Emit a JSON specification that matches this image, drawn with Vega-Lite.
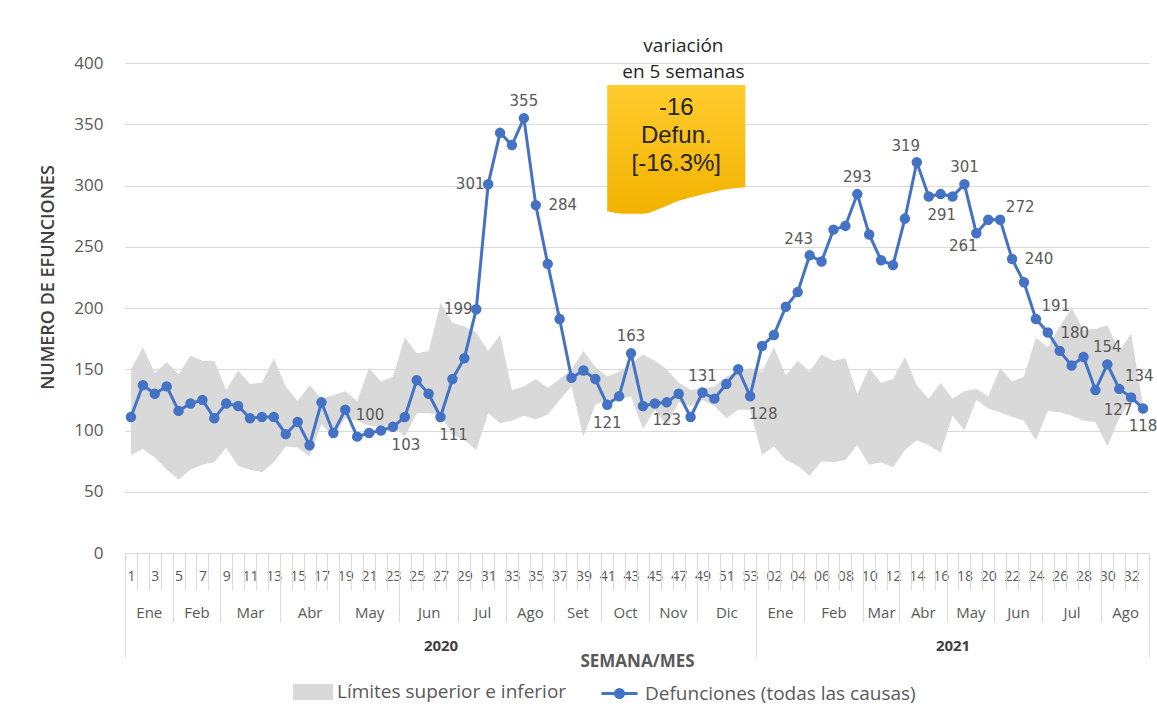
{
"$schema": "https://vega.github.io/schema/vega-lite/v6.json",
"width": 1024, "height": 490,
"autosize": {"type": "none"},
"padding": {"left": 125, "top": 63, "right": 8, "bottom": 169},
"background": "white",
"config": {"view": {"stroke": null}, "font": "Open Sans"},
"data": {"values": [
{"idx":1,"d":111,"lo":80,"hi":150},{"idx":2,"d":137,"lo":85,"hi":168},{"idx":3,"d":130,"lo":78,"hi":147},{"idx":4,"d":136,"lo":68,"hi":156},
{"idx":5,"d":116,"lo":60,"hi":146},{"idx":6,"d":122,"lo":68,"hi":161},{"idx":7,"d":125,"lo":72,"hi":157},{"idx":8,"d":110,"lo":74,"hi":157},
{"idx":9,"d":122,"lo":86,"hi":133},{"idx":10,"d":120,"lo":71,"hi":149},{"idx":11,"d":110,"lo":68,"hi":138},{"idx":12,"d":111,"lo":66,"hi":139},
{"idx":13,"d":111,"lo":74,"hi":159},{"idx":14,"d":97,"lo":87,"hi":136},{"idx":15,"d":107,"lo":86,"hi":124},{"idx":16,"d":88,"lo":79,"hi":137},
{"idx":17,"d":123,"lo":105,"hi":126},{"idx":18,"d":98,"lo":95,"hi":129},{"idx":19,"d":117,"lo":110,"hi":132},{"idx":20,"d":95,"lo":108,"hi":124},
{"idx":21,"d":98,"lo":104,"hi":151},{"idx":22,"d":100,"lo":103,"hi":140,"pos":"aboveleft"},{"idx":23,"d":103,"lo":105,"hi":144,"pos":"belowright"},{"idx":24,"d":111,"lo":95,"hi":176},
{"idx":25,"d":141,"lo":114,"hi":163},{"idx":26,"d":130,"lo":114,"hi":165},{"idx":27,"d":111,"lo":113,"hi":204,"pos":"belowright"},{"idx":28,"d":142,"lo":97,"hi":188},
{"idx":29,"d":159,"lo":92,"hi":185},{"idx":30,"d":199,"lo":84,"hi":180,"pos":"left"},{"idx":31,"d":301,"lo":114,"hi":165,"pos":"left"},{"idx":32,"d":343,"lo":106,"hi":178},
{"idx":33,"d":333,"lo":108,"hi":133},{"idx":34,"d":355,"lo":112,"hi":136,"pos":"above"},{"idx":35,"d":284,"lo":109,"hi":142,"pos":"right"},{"idx":36,"d":236,"lo":113,"hi":135},
{"idx":37,"d":191,"lo":125,"hi":142},{"idx":38,"d":143,"lo":136,"hi":150},{"idx":39,"d":149,"lo":95,"hi":165},{"idx":40,"d":142,"lo":121,"hi":152},
{"idx":41,"d":121,"lo":125,"hi":144,"pos":"below"},{"idx":42,"d":128,"lo":125,"hi":148},{"idx":43,"d":163,"lo":128,"hi":154,"pos":"above"},{"idx":44,"d":120,"lo":101,"hi":162},
{"idx":45,"d":122,"lo":117,"hi":157},{"idx":46,"d":123,"lo":104,"hi":150,"pos":"below"},{"idx":47,"d":130,"lo":123,"hi":139},{"idx":48,"d":111,"lo":120,"hi":133},
{"idx":49,"d":131,"lo":125,"hi":134,"pos":"above"},{"idx":50,"d":126,"lo":120,"hi":136},{"idx":51,"d":138,"lo":110,"hi":144},{"idx":52,"d":150,"lo":117,"hi":148},
{"idx":53,"d":128,"lo":117,"hi":151,"pos":"belowright"},
{"idx":54,"d":169,"lo":80,"hi":148},{"idx":55,"d":178,"lo":87,"hi":168},{"idx":56,"d":201,"lo":76,"hi":145},{"idx":57,"d":213,"lo":71,"hi":157},
{"idx":58,"d":243,"lo":63,"hi":148,"pos":"aboveleft"},{"idx":59,"d":238,"lo":75,"hi":162},{"idx":60,"d":264,"lo":74,"hi":157},{"idx":61,"d":267,"lo":76,"hi":159},
{"idx":62,"d":293,"lo":88,"hi":130,"pos":"above"},{"idx":63,"d":260,"lo":72,"hi":151},{"idx":64,"d":239,"lo":74,"hi":139},{"idx":65,"d":235,"lo":70,"hi":142},
{"idx":66,"d":273,"lo":84,"hi":160},{"idx":67,"d":319,"lo":92,"hi":137,"pos":"aboveleft"},{"idx":68,"d":291,"lo":88,"hi":126,"pos":"belowright"},{"idx":69,"d":293,"lo":82,"hi":139},
{"idx":70,"d":291,"lo":112,"hi":126},{"idx":71,"d":301,"lo":100,"hi":132,"pos":"above"},{"idx":72,"d":261,"lo":125,"hi":134,"pos":"belowleft"},{"idx":73,"d":272,"lo":118,"hi":128},
{"idx":74,"d":272,"lo":115,"hi":151,"pos":"aboveright"},{"idx":75,"d":240,"lo":111,"hi":140,"pos":"right"},{"idx":76,"d":221,"lo":108,"hi":144},{"idx":77,"d":191,"lo":92,"hi":176,"pos":"aboveright"},
{"idx":78,"d":180,"lo":116,"hi":168,"pos":"right"},{"idx":79,"d":165,"lo":115,"hi":185},{"idx":80,"d":153,"lo":112,"hi":200},{"idx":81,"d":160,"lo":108,"hi":182},
{"idx":82,"d":133,"lo":107,"hi":183},{"idx":83,"d":154,"lo":87,"hi":186,"pos":"above"},{"idx":84,"d":134,"lo":110,"hi":165,"pos":"aboveright"},{"idx":85,"d":127,"lo":125,"hi":179,"pos":"belowleft"},
{"idx":86,"d":118,"lo":118,"hi":120,"pos":"below"}
]},
"resolve": {"scale": {"x": "independent"}, "axis": {"x": "independent"}},
"layer": [
{
"encoding": {"x": {"field": "idx", "type": "quantitative", "scale": {"domain": [0.5, 86.5], "nice": false, "zero": false},
  "axis": {"orient": "bottom", "title": null, "grid": false, "domain": true, "domainColor": "#d9d9d9", "ticks": false, "tickSize": 0,
    "values": [1,2,3,4,5,6,7,8,9,10,11,12,13,14,15,16,17,18,19,20,21,22,23,24,25,26,27,28,29,30,31,32,33,34,35,36,37,38,39,40,41,42,43,44,45,46,47,48,49,50,51,52,53,54,55,56,57,58,59,60,61,62,63,64,65,66,67,68,69,70,71,72,73,74,75,76,77,78,79,80,81,82,83,84,85,86],
    "labelExpr": "datum.value <= 53 ? (datum.value % 2 == 1 ? '' + datum.value : '') : ((datum.value - 53) % 2 == 0 ? ((datum.value - 53) < 10 ? '0' + (datum.value - 53) : '' + (datum.value - 53)) : '')",
    "labelPadding": 16, "labelFont": "Open Sans", "labelFontSize": 14, "labelColor": "#595959", "labelOverlap": false, "labelFlush": false, "labelBound": false}}},
"layer": [
 {"mark": {"type": "area", "opacity": 1},
  "encoding": {
   "y": {"field": "lo", "type": "quantitative", "scale": {"domain": [0, 400], "nice": false, "zero": true},
     "axis": {"orient": "left", "values": [0,50,100,150,200,250,300,350,400], "domain": false, "ticks": false, "tickSize": 0, "labelPadding": 22,
       "labelFont": "Open Sans", "labelFontSize": 17, "labelColor": "#595959", "grid": true, "gridColor": "#d9d9d9", "gridWidth": 1,
       "title": "NUMERO DE EFUNCIONES", "titleFont": "Open Sans", "titleFontSize": 18, "titleFontWeight": 600, "titleColor": "#404040",
       "titleX": -77, "titleY": 214, "titleBaseline": "middle", "titleAngle": -90, "titleAlign": "center"}},
   "y2": {"field": "hi"},
   "fill": {"datum": "Límites superior e inferior",
     "scale": {"domain": ["Límites superior e inferior"], "range": ["#d9d9d9"]},
     "legend": {"orient": "none", "legendX": 168, "legendY": 609, "title": null, "symbolSize": 1600,
       "symbolType": "M-1,-0.4H1V0.4H-1Z", "symbolStrokeWidth": 0, "symbolOpacity": 1,
       "labelFont": "Open Sans", "labelFontSize": 19, "labelColor": "#595959", "labelOffset": 4, "labelLimit": 500}}
  }},
 {"mark": {"type": "line", "strokeWidth": 3, "color": "#4472c4"},
  "encoding": {"y": {"field": "d", "type": "quantitative"}}},
 {"mark": {"type": "point", "filled": false, "fill": "#4472c4", "fillOpacity": 1, "strokeWidth": 1.5, "size": 80, "opacity": 1},
  "encoding": {"y": {"field": "d", "type": "quantitative"},
   "stroke": {"datum": "Defunciones (todas las causas)",
     "scale": {"domain": ["Defunciones (todas las causas)"], "range": ["#4472c4"]},
     "legend": {"orient": "none", "legendX": 473, "legendY": 609, "title": null, "symbolSize": 1600,
       "symbolType": "M-0.9,0H0.9M-0.2,0A0.2,0.2,0,1,0,0.2,0A0.2,0.2,0,1,0,-0.2,0Z", "symbolStrokeWidth": 3, "symbolFillColor": "#4472c4", "symbolOpacity": 1,
       "labelFont": "Open Sans", "labelFontSize": 19, "labelColor": "#595959", "labelOffset": 4, "labelLimit": 500}}}},
 {"transform": [{"filter": "datum.pos == 'above'"}],
  "mark": {"type": "text", "dy": -17, "font": "DejaVu Sans", "fontSize": 15, "color": "#595959", "baseline": "middle", "align": "center"},
  "encoding": {"y": {"field": "d", "type": "quantitative"}, "text": {"field": "d", "type": "quantitative"}}},
 {"transform": [{"filter": "datum.pos == 'below'"}],
  "mark": {"type": "text", "dy": 18, "font": "DejaVu Sans", "fontSize": 15, "color": "#595959", "baseline": "middle", "align": "center"},
  "encoding": {"y": {"field": "d", "type": "quantitative"}, "text": {"field": "d", "type": "quantitative"}}},
 {"transform": [{"filter": "datum.pos == 'left'"}],
  "mark": {"type": "text", "dx": -18, "font": "DejaVu Sans", "fontSize": 15, "color": "#595959", "baseline": "middle", "align": "center"},
  "encoding": {"y": {"field": "d", "type": "quantitative"}, "text": {"field": "d", "type": "quantitative"}}},
 {"transform": [{"filter": "datum.pos == 'right'"}],
  "mark": {"type": "text", "dx": 27, "font": "DejaVu Sans", "fontSize": 15, "color": "#595959", "baseline": "middle", "align": "center"},
  "encoding": {"y": {"field": "d", "type": "quantitative"}, "text": {"field": "d", "type": "quantitative"}}},
 {"transform": [{"filter": "datum.pos == 'aboveleft'"}],
  "mark": {"type": "text", "dx": -11, "dy": -16, "font": "DejaVu Sans", "fontSize": 15, "color": "#595959", "baseline": "middle", "align": "center"},
  "encoding": {"y": {"field": "d", "type": "quantitative"}, "text": {"field": "d", "type": "quantitative"}}},
 {"transform": [{"filter": "datum.pos == 'aboveright'"}],
  "mark": {"type": "text", "dx": 20, "dy": -13, "font": "DejaVu Sans", "fontSize": 15, "color": "#595959", "baseline": "middle", "align": "center"},
  "encoding": {"y": {"field": "d", "type": "quantitative"}, "text": {"field": "d", "type": "quantitative"}}},
 {"transform": [{"filter": "datum.pos == 'belowright'"}],
  "mark": {"type": "text", "dx": 13, "dy": 18, "font": "DejaVu Sans", "fontSize": 15, "color": "#595959", "baseline": "middle", "align": "center"},
  "encoding": {"y": {"field": "d", "type": "quantitative"}, "text": {"field": "d", "type": "quantitative"}}},
 {"transform": [{"filter": "datum.pos == 'belowleft'"}],
  "mark": {"type": "text", "dx": -13, "dy": 13, "font": "DejaVu Sans", "fontSize": 15, "color": "#595959", "baseline": "middle", "align": "center"},
  "encoding": {"y": {"field": "d", "type": "quantitative"}, "text": {"field": "d", "type": "quantitative"}}},
 {"data": {"values": [
   {"idx": 41.0, "top": 382, "bot": 279}, {"idx": 42.5, "top": 382, "bot": 277}, {"idx": 44, "top": 382, "bot": 277},
   {"idx": 45.5, "top": 382, "bot": 281.5}, {"idx": 47, "top": 382, "bot": 287.5}, {"idx": 48.5, "top": 382, "bot": 291.5},
   {"idx": 50, "top": 382, "bot": 295}, {"idx": 51.5, "top": 382, "bot": 297.5}, {"idx": 52.6, "top": 382, "bot": 298.5}]},
  "mark": {"type": "area", "interpolate": "monotone", "opacity": 1,
    "fill": {"gradient": "linear", "x1": 0, "y1": 0, "x2": 0, "y2": 1, "stops": [{"offset": 0, "color": "#ffcb2e"}, {"offset": 1, "color": "#f2b200"}]}},
  "encoding": {"y": {"field": "top", "type": "quantitative"}, "y2": {"field": "bot"}}},
 {"data": {"values": [
   {"idx": 46.8, "v": 363, "t": "-16"}, {"idx": 46.8, "v": 340.4, "t": "Defun."}, {"idx": 46.8, "v": 317.6, "t": "[-16.3%]"}]},
  "mark": {"type": "text", "font": "Liberation Sans", "fontSize": 24, "color": "#262626", "baseline": "middle", "align": "center"},
  "encoding": {"y": {"field": "v", "type": "quantitative"}, "text": {"field": "t"}}},
 {"data": {"values": [
   {"idx": 47.4, "v": 413.9, "t": "variación"}, {"idx": 47.4, "v": 392.7, "t": "en 5 semanas"}]},
  "mark": {"type": "text", "font": "Open Sans", "fontSize": 19, "color": "#262626", "baseline": "middle", "align": "center"},
  "encoding": {"y": {"field": "v", "type": "quantitative"}, "text": {"field": "t"}}}
]
},
{"transform": [{"filter": "datum.idx == 1"}], "mark": {"type": "rule", "opacity": 0},
 "encoding": {"x": {"field": "idx", "type": "quantitative", "scale": {"domain": [0.5, 86.5], "nice": false, "zero": false},
  "axis": {"orient": "bottom", "title": null, "grid": false, "domain": false, "labels": false, "ticks": true, "tickSize": 37, "tickColor": "#d9d9d9", "tickWidth": 1,
   "values": [0.5,1.5,2.5,3.5,4.5,5.5,6.5,7.5,8.5,9.5,10.5,11.5,12.5,13.5,14.5,15.5,16.5,17.5,18.5,19.5,20.5,21.5,22.5,23.5,24.5,25.5,26.5,27.5,28.5,29.5,30.5,31.5,32.5,33.5,34.5,35.5,36.5,37.5,38.5,39.5,40.5,41.5,42.5,43.5,44.5,45.5,46.5,47.5,48.5,49.5,50.5,51.5,52.5,53.5,54.5,55.5,56.5,57.5,58.5,59.5,60.5,61.5,62.5,63.5,64.5,65.5,66.5,67.5,68.5,69.5,70.5,71.5,72.5,73.5,74.5,75.5,76.5,77.5,78.5,79.5,80.5,81.5,82.5,83.5,84.5,85.5,86.5]}}}},
{"transform": [{"filter": "datum.idx == 1"}], "mark": {"type": "rule", "opacity": 0},
 "encoding": {"x": {"field": "idx", "type": "quantitative", "scale": {"domain": [0.5, 86.5], "nice": false, "zero": false},
  "axis": {"orient": "bottom", "title": null, "grid": false, "domain": false, "labels": false, "ticks": true, "tickSize": 69, "tickColor": "#d9d9d9", "tickWidth": 1,
   "values": [0.5,4.5,8.5,13.5,18.5,23.5,28.5,32.5,36.5,40.5,44.5,48.5,53.5,57.5,62.5,65.5,69.5,73.5,77.5,82.5,86.5]}}}},
{"transform": [{"filter": "datum.idx == 1"}], "mark": {"type": "rule", "opacity": 0},
 "encoding": {"x": {"field": "idx", "type": "quantitative", "scale": {"domain": [0.5, 86.5], "nice": false, "zero": false},
  "axis": {"orient": "bottom", "title": null, "grid": false, "domain": false, "ticks": false, "tickSize": 0,
   "values": [2.5,6.5,11,16,21,26,30.5,34.5,38.5,42.5,46.5,51,55.5,60,64,67.5,71.5,75.5,80,84.5],
   "labelExpr": "['Ene','Feb','Mar','Abr','May','Jun','Jul','Ago','Set','Oct','Nov','Dic','Ene','Feb','Mar','Abr','May','Jun','Jul','Ago'][indexof([2.5,6.5,11,16,21,26,30.5,34.5,38.5,42.5,46.5,51,55.5,60,64,67.5,71.5,75.5,80,84.5], datum.value)]",
   "labelPadding": 52, "labelFont": "Open Sans", "labelFontSize": 15, "labelColor": "#595959", "labelOverlap": false, "labelFlush": false, "labelBound": false}}}},
{"transform": [{"filter": "datum.idx == 1"}], "mark": {"type": "rule", "opacity": 0},
 "encoding": {"x": {"field": "idx", "type": "quantitative", "scale": {"domain": [0.5, 86.5], "nice": false, "zero": false},
  "axis": {"orient": "bottom", "title": null, "grid": false, "domain": false, "labels": false, "ticks": true, "tickSize": 104, "tickColor": "#d9d9d9", "tickWidth": 1,
   "values": [0.5, 53.5, 86.5]}}}},
{"transform": [{"filter": "datum.idx == 1"}], "mark": {"type": "rule", "opacity": 0},
 "encoding": {"x": {"field": "idx", "type": "quantitative", "scale": {"domain": [0.5, 86.5], "nice": false, "zero": false},
  "axis": {"orient": "bottom", "grid": false, "domain": false, "ticks": false, "tickSize": 0,
   "values": [27, 70],
   "labelExpr": "datum.value == 27 ? '2020' : '2021'",
   "labelPadding": 85, "labelFont": "Open Sans", "labelFontSize": 15, "labelFontWeight": "bold", "labelColor": "#404040", "labelOverlap": false, "labelFlush": false, "labelBound": false,
   "title": "SEMANA/MES", "titleFont": "Open Sans", "titleFontSize": 17, "titleFontWeight": "bold", "titleColor": "#595959", "titlePadding": 0}}}}
]
}
